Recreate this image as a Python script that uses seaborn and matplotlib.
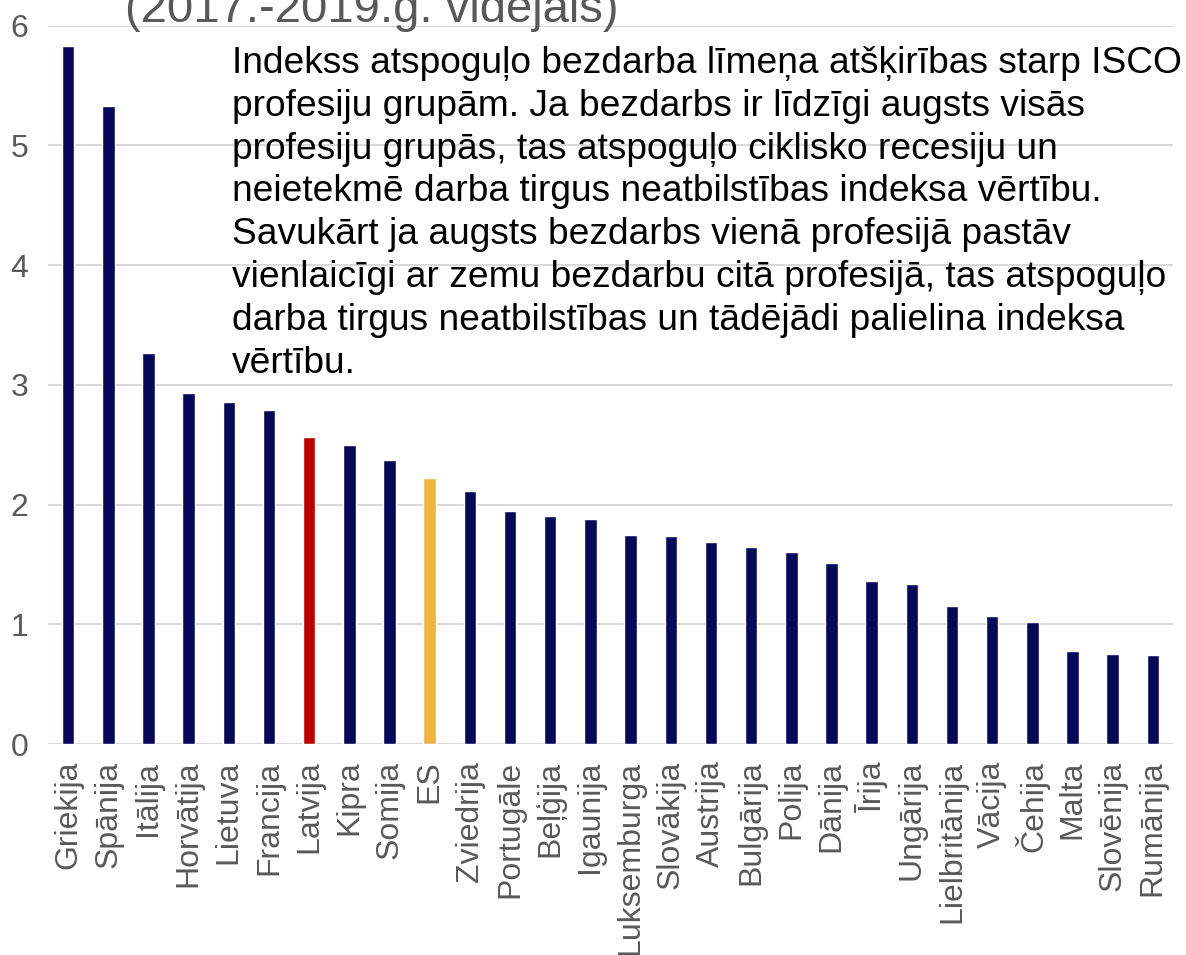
import matplotlib as mpl
import matplotlib.pyplot as plt
import pandas as pd
import seaborn as sns

# datu vērtības (nolasītas no attēla)
valstis = ['Griekija', 'Spānija', 'Itālija', 'Horvātija', 'Lietuva', 'Francija', 'Latvija',
           'Kipra', 'Somija', 'ES', 'Zviedrija', 'Portugāle', 'Beļģija', 'Igaunija',
           'Luksemburga', 'Slovākija', 'Austrija', 'Bulgārija', 'Polija', 'Dānija', 'Īrija',
           'Ungārija', 'Lielbritānija', 'Vācija', 'Čehija', 'Malta', 'Slovēnija', 'Rumānija']
indekss = [5.83, 5.33, 3.27, 2.93, 2.855, 2.79, 2.565, 2.50, 2.37, 2.22, 2.11, 1.945, 1.905,
           1.88, 1.75, 1.736, 1.684, 1.647, 1.608, 1.508, 1.36, 1.34, 1.155, 1.066, 1.016,
           0.78, 0.754, 0.74]
y_ticks = [0, 1, 2, 3, 4, 5, 6]

virsraksts = '(2017.-2019.g. vidējais)'
piezime = ('Indekss atspoguļo bezdarba līmeņa atšķirības starp ISCO\n'
           'profesiju grupām. Ja bezdarbs ir līdzīgi augsts visās\n'
           'profesiju grupās, tas atspoguļo ciklisko recesiju un\n'
           'neietekmē darba tirgus neatbilstības indeksa vērtību.\n'
           'Savukārt ja augsts bezdarbs vienā profesijā pastāv\n'
           'vienlaicīgi ar zemu bezdarbu citā profesijā, tas atspoguļo\n'
           'darba tirgus neatbilstības un tādējādi palielina indeksa\n'
           'vērtību.')

df = pd.DataFrame({'valsts': valstis, 'indekss': indekss})

krasas = {v: '#08085A' for v in valstis}
krasas['Latvija'] = '#C00000'
krasas['ES'] = '#F0B441'

sns.set_style('white')
mpl.rcParams['font.family'] = ['Liberation Sans', 'DejaVu Sans']

fig = plt.figure(figsize=(11.86, 9.55), dpi=100)
ax = fig.add_axes([0.0405, 0.2209, 0.9485, 0.7522])

sns.barplot(data=df, x='valsts', y='indekss', hue='valsts', palette=krasas,
            width=0.31, legend=False, ax=ax, saturation=1)

ax.set_xlim(-0.5, len(valstis) - 0.5)
ax.set_ylim(0, 6)
ax.set_yticks(y_ticks)
ax.set_xlabel('')
ax.set_ylabel('')
ax.grid(axis='y', color='#D9D9D9', linewidth=1.5)
ax.set_axisbelow(True)
for s in ax.spines.values():
    s.set_visible(False)
ax.tick_params(axis='y', length=0, pad=14, labelsize=23, labelcolor='#595959')
ax.tick_params(axis='x', length=0, pad=12, labelsize=23, labelcolor='#595959', rotation=90)

fig.text(125 / 1186, 1 - 22 / 955, virsraksts, fontsize=34, color='#595959', va='baseline')
fig.text(232 / 1186, 1 - 46 / 955, piezime, fontsize=26.7, color='black', va='top',
         linespacing=1.29)

fig.savefig('out.png', dpi=100)
